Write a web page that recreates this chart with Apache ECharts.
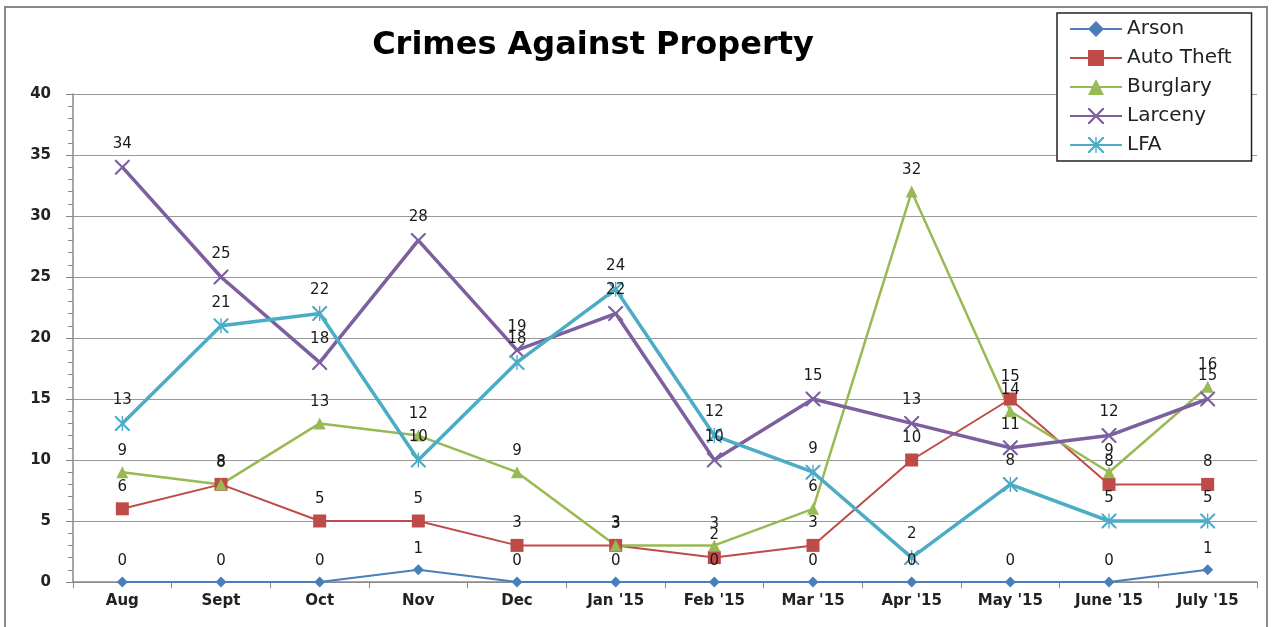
<!DOCTYPE html>
<html>
<head>
<meta charset="utf-8">
<script src="https://cdn.jsdelivr.net/npm/echarts@6/dist/echarts.min.js"></script>
<style>html,body{margin:0;padding:0;background:#fff}#c{width:1273px;height:627px}</style>
</head>
<body>
<div id="c"></div>
<script>
const categories = ["Aug", "Sept", "Oct", "Nov", "Dec", "Jan '15", "Feb '15", "Mar '15", "Apr '15", "May '15", "June '15", "July '15"];
const arson = [0, 0, 0, 1, 0, 0, 0, 0, 0, 0, 0, 1];
const autoTheft = [6, 8, 5, 5, 3, 3, 2, 3, 10, 15, 8, 8];
const burglary = [9, 8, 13, 12, 9, 3, 3, 6, 32, 14, 9, 16];
const larceny = [34, 25, 18, 28, 19, 22, 10, 15, 13, 11, 12, 15];
const lfa = [13, 21, 22, 10, 18, 24, 12, 9, 2, 8, 5, 5];
const yTicks = [0, 5, 10, 15, 20, 25, 30, 35, 40];

const X_PATH = 'path://M0,0 L1,0 L5,4 L9,0 L10,0 L10,1 L6,5 L10,9 L10,10 L9,10 L5,6 L1,10 L0,10 L0,9 L4,5 L0,1 Z';
const STAR_PATH = 'path://M0,0 L1,0 L5,4 L9,0 L10,0 L10,1 L6,5 L10,9 L10,10 L9,10 L5,6 L1,10 L0,10 L0,9 L4,5 L0,1 Z M4.55,0 L5.45,0 L5.45,10 L4.55,10 Z';

const font = "'DejaVu Sans', 'Open Sans', sans-serif";
const labelStyle = {show: true, position: 'top', distance: 8, color: '#1a1a1a', fontSize: 15, fontFamily: font};

function mk(name, data, color, width, symbol, size) {
  return {
    name, type: 'line', data, symbol, symbolSize: size,
    lineStyle: {color, width},
    itemStyle: {color},
    label: labelStyle,
    emphasis: {disabled: true},
    z: 3
  };
}

const chart = echarts.init(document.getElementById('c'), null, {renderer: 'canvas'});
chart.setOption({
  backgroundColor: '#fff',
  animation: false,
  graphic: [
    {type: 'rect', shape: {x: 5, y: 7, width: 1262, height: 640}, style: {fill: 'none', stroke: '#888', lineWidth: 2}, z: 0},
    {type: 'text', x: 593, y: 46, style: {text: 'Crimes Against Property', fontSize: 32, fontWeight: 'bold', fontFamily: font, fill: '#000', textAlign: 'center', textVerticalAlign: 'middle'}, z: 10}
  ],
  legend: {
    orient: 'vertical', left: 1057, top: 13,
    padding: [6, 20, 6, 12], itemGap: 9, itemWidth: 52, itemHeight: 20,
    borderColor: '#222', borderWidth: 1.5, backgroundColor: '#fff',
    textStyle: {fontSize: 20, lineHeight: 20, color: '#222', fontFamily: font},
    data: ['Arson', 'Auto Theft', 'Burglary', 'Larceny', 'LFA']
  },
  grid: {left: 73, right: 16, top: 94, bottom: 45, containLabel: false},
  xAxis: {
    type: 'category', data: categories, boundaryGap: true,
    axisLine: {lineStyle: {color: '#888', width: 1.5}},
    axisTick: {show: true, length: 6, lineStyle: {color: '#888'}},
    axisLabel: {fontSize: 15, fontWeight: 'bold', color: '#222', margin: 12, fontFamily: font, interval: 0}
  },
  yAxis: {
    type: 'value', min: yTicks[0], max: yTicks[yTicks.length - 1], interval: 5,
    axisLine: {show: true, lineStyle: {color: '#888', width: 1.5}},
    axisTick: {show: true, length: 7, lineStyle: {color: '#888'}},
    minorTick: {show: true, splitNumber: 5, length: 5, lineStyle: {color: '#888'}},
    splitLine: {lineStyle: {color: '#999', width: 1}},
    axisLabel: {fontSize: 15, fontWeight: 'bold', color: '#222', margin: 22, fontFamily: font}
  },
  series: [
    mk('Arson', arson, '#4A7EBB', 2, 'diamond', 11),
    mk('Auto Theft', autoTheft, '#BE4B48', 2, 'rect', 13),
    mk('Burglary', burglary, '#98B954', 2.5, 'triangle', 12),
    mk('Larceny', larceny, '#7D5FA0', 3.5, X_PATH, 15),
    mk('LFA', lfa, '#4BACC6', 3.5, STAR_PATH, 15)
  ]
});
</script>
</body>
</html>
